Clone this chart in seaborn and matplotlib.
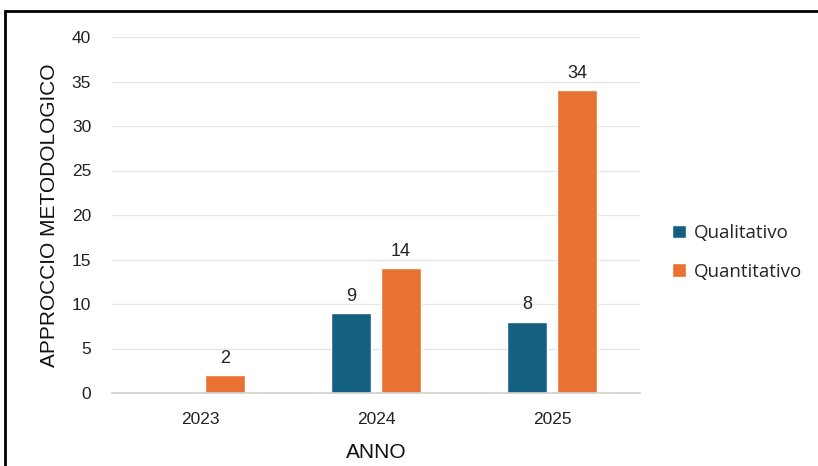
import matplotlib
matplotlib.use("Agg")
import matplotlib.pyplot as plt
from matplotlib.patches import Rectangle
import seaborn as sns
import pandas as pd

years = ["2023", "2024", "2025"]
qualitativo = [0, 9, 8]
quantitativo = [2, 14, 34]
series = ["Qualitativo", "Quantitativo"]
colors = ["#156082", "#E97132"]
y_ticks = [0, 5, 10, 15, 20, 25, 30, 35, 40]

df = pd.DataFrame({
    "ANNO": years * 2,
    "valore": qualitativo + quantitativo,
    "serie": [series[0]] * len(years) + [series[1]] * len(years),
})

sns.set_theme(style="white")
plt.rcParams["font.family"] = ["Liberation Sans", "DejaVu Sans"]

fig = plt.figure(figsize=(8.18, 4.66), dpi=100)
ax = fig.add_axes([112 / 818, 1 - 393 / 466, 528 / 818, 356 / 466])

sns.barplot(data=df, x="ANNO", y="valore", hue="serie", palette=colors,
            width=0.568, gap=0.2, ax=ax, legend=True, saturation=1)

ax.set_ylim(0, 40)
ax.set_xlim(-0.5, 2.5)
ax.set_yticks(y_ticks)
ax.yaxis.grid(True, color="#E6E6E6", linewidth=1)
ax.set_axisbelow(True)
for s in ["top", "right", "left"]:
    ax.spines[s].set_visible(False)
ax.spines["bottom"].set_color("#D0D0D0")
ax.spines["bottom"].set_linewidth(1.2)
ax.tick_params(axis="both", length=0, labelsize=12.5, colors="#222222")
ax.tick_params(axis="y", pad=15)
ax.tick_params(axis="x", pad=14)

ax.set_xlabel("ANNO", fontsize=15, color="#111111", labelpad=11)
ax.set_ylabel("APPROCCIO METODOLOGICO", fontsize=15, color="#111111", labelpad=9)

for container in ax.containers:
    labels = [f"{v:g}" if v > 0 else "" for v in container.datavalues]
    ax.bar_label(container, labels=labels, padding=6, fontsize=13, color="#222222")

handles, labels = ax.get_legend_handles_labels()
ax.legend(handles, labels, loc="center left", bbox_to_anchor=(1.029, 0.395),
          frameon=False, prop={"family": ["Open Sans", "DejaVu Sans"], "size": 13.5},
          handlelength=0.75, handleheight=0.75,
          handletextpad=0.4, labelspacing=1.1)

fig.patches.append(Rectangle((5 / 818, -0.1), 1.2, (1 - 11 / 466) + 0.1,
                             transform=fig.transFigure, fill=False,
                             edgecolor="black", linewidth=2))

fig.savefig("out.png", dpi=100)
